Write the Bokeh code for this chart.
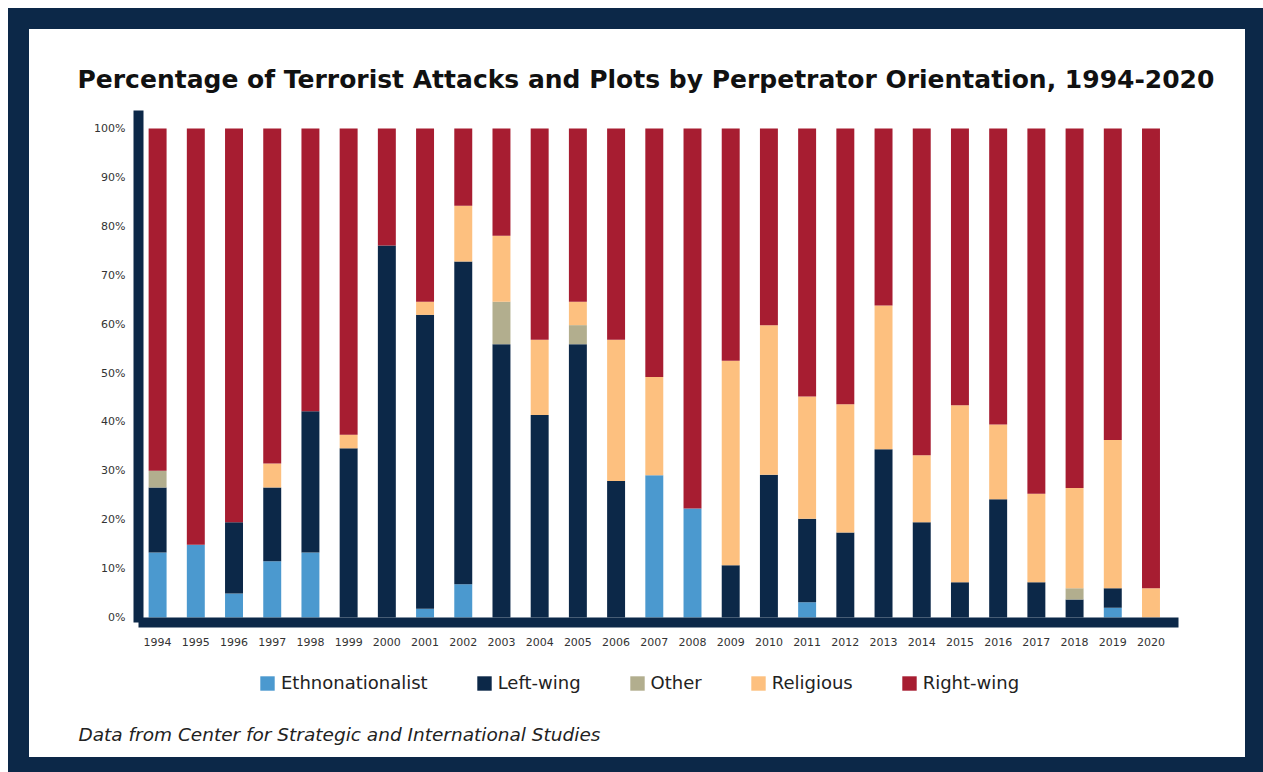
from bokeh.plotting import figure
from bokeh.models import (ColumnDataSource, Range1d, FixedTicker, Legend, Title)
from bokeh.layouts import column
from bokeh.embed import file_html
from bokeh.resources import INLINE

years = [1994, 1995, 1996, 1997, 1998, 1999, 2000, 2001, 2002, 2003, 2004, 2005, 2006,
         2007, 2008, 2009, 2010, 2011, 2012, 2013, 2014, 2015, 2016, 2017, 2018, 2019, 2020]
ethnonationalist = [13.3, 14.9, 4.9, 11.5, 13.3, 0, 0, 1.8, 6.8, 0, 0, 0, 0,
                    29.1, 22.3, 0, 0, 3.1, 0, 0, 0, 0, 0, 0, 0, 2.0, 0]
left_wing = [13.3, 0, 14.6, 15.1, 28.9, 34.6, 76.1, 60.1, 66.0, 55.9, 41.4, 55.9, 27.9,
             0, 0, 10.7, 29.2, 17.1, 17.4, 34.4, 19.5, 7.2, 24.2, 7.2, 3.7, 4.0, 0]
other = [3.4, 0, 0, 0, 0, 0, 0, 0, 0, 8.7, 0, 3.9, 0,
         0, 0, 0, 0, 0, 0, 0, 0, 0, 0, 0, 2.3, 0, 0]
religious = [0, 0, 0, 4.9, 0, 2.8, 0, 2.7, 11.4, 13.5, 15.4, 4.8, 28.9,
             20.1, 0, 41.8, 30.6, 25.0, 26.2, 29.4, 13.7, 36.2, 15.3, 18.1, 20.5, 30.3, 6.0]
right_wing = [70.0, 85.1, 80.5, 68.5, 57.8, 62.6, 23.9, 35.4, 15.8, 21.9, 43.2, 35.4, 43.2,
              50.8, 77.7, 47.5, 40.2, 54.8, 56.4, 36.2, 66.8, 56.6, 60.5, 74.7, 73.5, 63.7, 94.0]
series_names = ["Ethnonationalist", "Left-wing", "Other", "Religious", "Right-wing"]
y_ticks = [0, 10, 20, 30, 40, 50, 60, 70, 80, 90, 100]
y_tick_labels = ["0%", "10%", "20%", "30%", "40%", "50%", "60%", "70%", "80%", "90%", "100%"]
title_text = "Percentage of Terrorist Attacks and Plots by Perpetrator Orientation, 1994-2020"
source_text = "Data from Center for Strategic and International Studies"

NAVY = "#0c2848"
colors = ["#4b99cf", NAVY, "#b2ae8e", "#fdc07f", "#a71d31"]
TEXT = "#222222"
FONT = "DejaVu Sans"
stack_cols = ["e", "l", "o", "r", "rw"]

src = ColumnDataSource(dict(year=years, e=ethnonationalist, l=left_wing, o=other,
                            r=religious, rw=right_wing))

# ---- main chart ----
p = figure(width=1216, height=626, output_backend="svg", toolbar_location=None,
           x_range=Range1d(1993.5, 2020.72), y_range=Range1d(-1.02, 103.7),
           min_border_left=109, min_border_right=67, min_border_top=81,
           min_border_bottom=33, background_fill_color="white",
           border_fill_color="white")
p.outline_line_color = None

p.title.text = title_text
p.title.text_font = FONT
p.title.text_font_style = "bold"
p.title.text_font_size = "25px"
p.title.text_color = "#111111"
p.title.align = "left"
p.title.offset = -61
p.title.standoff = 33

p.vbar_stack(stack_cols, x="year", width=0.47, source=src,
             fill_color=colors, line_color=None)

p.xgrid.visible = False
p.ygrid.visible = False

for ax in (p.xaxis[0], p.yaxis[0]):
    ax.axis_line_color = NAVY
    ax.axis_line_width = 10
    ax.major_tick_line_color = None
    ax.minor_tick_line_color = None
    ax.major_tick_out = 0
    ax.major_tick_in = 0
    ax.major_label_text_font = FONT
    ax.major_label_text_color = "#333333"
    ax.major_label_text_font_size = "11px"

p.yaxis.ticker = FixedTicker(ticks=y_ticks)
p.yaxis.major_label_overrides = {t: lab for t, lab in zip(y_ticks, y_tick_labels)}
p.yaxis.major_label_standoff = 13
p.xaxis.ticker = FixedTicker(ticks=years)
p.xaxis.major_label_overrides = {y: str(y) for y in years}
p.xaxis.major_label_standoff = 15

# ---- legend + source note (key only: the stacked renderers here are hidden) ----
p2 = figure(width=1216, height=102, output_backend="svg", toolbar_location=None,
            x_range=Range1d(0, 1), y_range=Range1d(0, 1),
            x_axis_location=None, y_axis_location=None, min_border=0,
            min_border_bottom=40,
            background_fill_color="white", border_fill_color="white")
p2.outline_line_color = None
p2.grid.visible = False

swatches = p2.vbar_stack(stack_cols, x="year", width=0.47, source=src,
                         fill_color=colors, line_color=None)
for r in swatches:
    r.visible = False

legend = Legend(items=[(name, [r]) for name, r in zip(series_names, swatches)],
                orientation="horizontal", location=(120, 24), click_policy="none",
                glyph_width=18, glyph_height=18, label_standoff=5, spacing=47,
                label_text_font=FONT, label_text_font_size="18px",
                label_text_color=TEXT, border_line_color=None,
                background_fill_alpha=0, padding=0, margin=0)
p2.add_layout(legend)

note = Title(text=source_text, align="left", offset=-60, standoff=9,
             text_font=FONT, text_font_style="italic", text_font_size="18.5px",
             text_color=TEXT)
p2.add_layout(note, "below")

inner = column(p, p2, spacing=0, styles={"background-color": "white"})
layout = column(inner, spacing=0,
                styles={"background-color": NAVY, "padding": "21px 18px 15px 21px",
                        "margin": "8px 0 0 8px"})

open("out.html", "w").write(file_html(layout, INLINE))
